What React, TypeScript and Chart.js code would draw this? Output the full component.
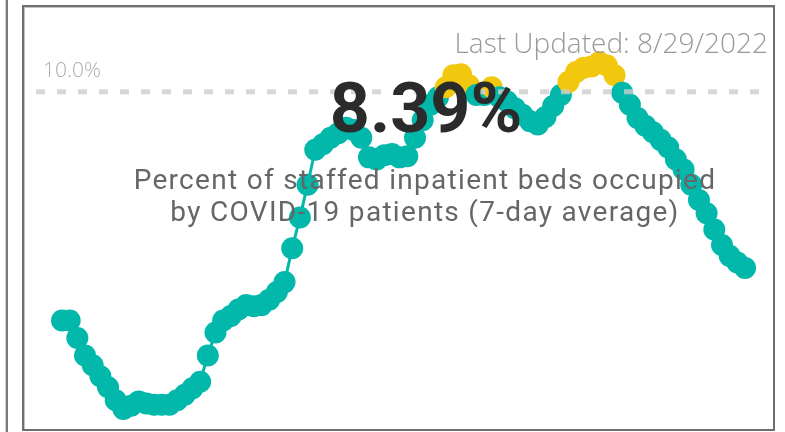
import React, { useEffect, useRef } from "react";
import { Chart, registerables } from "chart.js";

Chart.register(...registerables);

// 7-day average share of staffed inpatient beds occupied by COVID-19 patients (%)
const occupancyPct: number[] = [
  7.91, 7.91, 7.75, 7.59, 7.5, 7.4, 7.3, 7.18, 7.1, 7.13,
  7.17, 7.15, 7.14, 7.14, 7.14, 7.18, 7.23, 7.29, 7.35, 7.59,
  7.8, 7.91, 7.95, 8.01, 8.05, 8.04, 8.05, 8.1, 8.17, 8.26,
  8.57, 8.85, 9.15, 9.47, 9.52, 9.58, 9.62, 9.67, 9.65, 9.58,
  9.4, 9.38, 9.42, 9.43, 9.4, 9.41, 9.58, 9.74, 9.88, 9.95,
  10.04, 10.15, 10.16, 10.06, 9.97, 9.97, 10.04, 9.95, 9.91, 9.85,
  9.79, 9.73, 9.7, 9.77, 9.87, 9.97, 10.09, 10.18, 10.22, 10.23,
  10.27, 10.24, 10.15, 9.99, 9.88, 9.76, 9.69, 9.63, 9.56, 9.49,
  9.38, 9.29, 9.15, 9.01, 8.89, 8.74, 8.6, 8.5, 8.44, 8.39,
];

// one category per day, ending the day before the update date
const dayLabels: string[] = occupancyPct.map((_, i) => {
  const d = new Date(2022, 4, 31 + i);
  return `${d.getMonth() + 1}/${d.getDate()}/${d.getFullYear()}`;
});

const thresholdPct = 10;
const thresholdLabel = "10.0%";
const headlineValue = "8.39%";
const subtitleLines = [
  "Percent of staffed inpatient beds occupied",
  "by COVID-19 patients (7-day average)",
];
const updatedText = "Last Updated: 8/29/2022";

const TEAL = "#01B8AA";
const YELLOW = "#F2C80F";

const refLinePlugin = {
  id: "refLine",
  afterDatasetsDraw(chart: any) {
    const { ctx, chartArea, scales } = chart;
    const y = scales.y.getPixelForValue(thresholdPct);
    ctx.save();
    ctx.setLineDash([9, 12]);
    ctx.lineWidth = 5;
    ctx.strokeStyle = "rgba(205,205,205,0.8)";
    ctx.beginPath();
    ctx.moveTo(chartArea.left - 26, y);
    ctx.lineTo(chartArea.right + 15, y);
    ctx.stroke();
    ctx.setLineDash([]);
    ctx.fillStyle = "#acacac";
    ctx.font = "300 21px 'Open Sans', sans-serif";
    ctx.textBaseline = "alphabetic";
    ctx.textAlign = "left";
    ctx.fillText(thresholdLabel, chartArea.left - 19, y - 15);
    ctx.restore();
  },
};

export default function App() {
  const canvasRef = useRef<HTMLCanvasElement | null>(null);

  useEffect(() => {
    if (!canvasRef.current) return;
    const chart = new Chart(canvasRef.current, {
      type: "line",
      data: {
        labels: dayLabels,
        datasets: [
          {
            data: occupancyPct,
            borderColor: TEAL,
            borderWidth: 3,
            pointRadius: 11,
            pointBorderWidth: 0,
            pointBackgroundColor: occupancyPct.map((v) => (v > thresholdPct ? YELLOW : TEAL)),
            pointBorderColor: occupancyPct.map((v) => (v > thresholdPct ? YELLOW : TEAL)),
            tension: 0,
            clip: false as any,
          },
        ],
      },
      options: {
        responsive: false,
        animation: false,
        devicePixelRatio: 1,
        layout: { padding: { left: 62, right: 40, top: 37, bottom: 12 } },
        plugins: {
          legend: { display: false },
          tooltip: { enabled: false },
          title: { display: false },
        },
        scales: {
          x: { type: "category", display: false, offset: false },
          y: { display: false, min: 7.0, max: 10.5 },
        },
      },
      plugins: [refLinePlugin],
    });
    return () => chart.destroy();
  }, []);

  return (
    <div
      style={{
        position: "fixed",
        left: 0,
        top: 0,
        width: 785,
        height: 432,
        background: "#fff",
        overflow: "hidden",
      }}
    >
      {/* outer pane edge */}
      <div style={{ position: "absolute", left: 5, top: 0, width: 1, height: 432, background: "#cfcfcf" }} />
      <div style={{ position: "absolute", left: 6, top: 0, width: 2, height: 432, background: "#7a7a7a" }} />
      {/* visual frame */}
      <div
        style={{
          position: "absolute",
          left: 22,
          top: 5,
          width: 749,
          height: 422,
          border: "2px solid #6e6e6e",
          boxShadow: "inset 1px 1px 0 #c4c4c4",
        }}
      />
      <canvas
        ref={canvasRef}
        width={785}
        height={432}
        style={{ position: "absolute", left: 0, top: 0, width: 785, height: 432 }}
      />
      <div
        style={{
          position: "absolute",
          right: 17,
          top: 28,
          fontFamily: "'Open Sans', sans-serif",
          fontWeight: 300,
          fontSize: 28,
          lineHeight: "28px",
          color: "#999999",
          whiteSpace: "nowrap",
        }}
      >
        {updatedText}
      </div>
      <div
        style={{
          position: "absolute",
          left: 226,
          width: 400,
          top: 73,
          textAlign: "center",
          fontFamily: "Roboto, sans-serif",
          fontWeight: 700,
          fontSize: 70,
          lineHeight: "70px",
          color: "#2b2b2b",
          whiteSpace: "nowrap",
        }}
      >
        {headlineValue}
      </div>
      <div
        style={{
          position: "absolute",
          left: 75,
          width: 700,
          top: 164,
          textAlign: "center",
          fontFamily: "Roboto, sans-serif",
          fontWeight: 400,
          fontSize: 28,
          lineHeight: "32px",
          letterSpacing: 1.3,
          color: "#666666",
          whiteSpace: "nowrap",
        }}
      >
        {subtitleLines.map((l) => (
          <div key={l}>{l}</div>
        ))}
      </div>
    </div>
  );
}
